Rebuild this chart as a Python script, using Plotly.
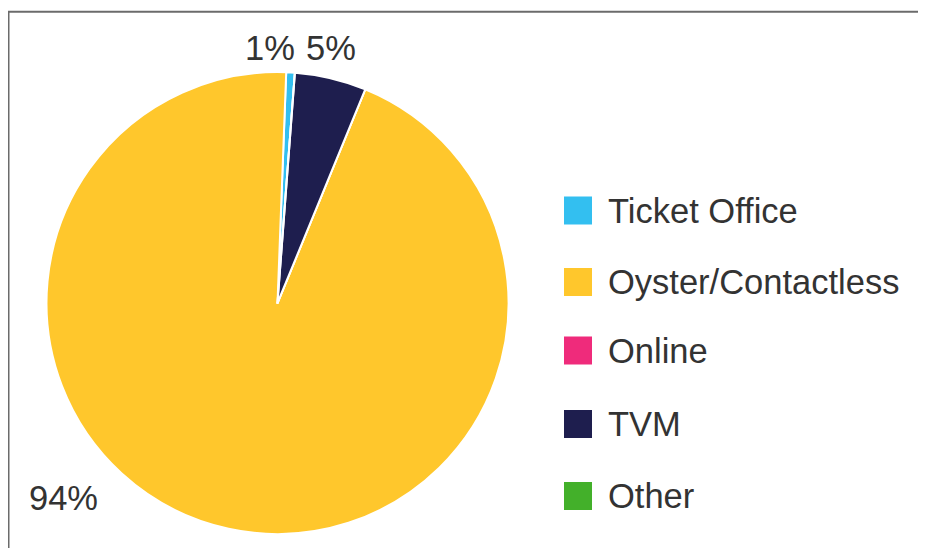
import plotly.graph_objects as go

categories = ["Ticket Office", "Oyster/Contactless", "Online", "TVM", "Other"]
shares = [0.6, 94.4, 0.0, 5.0, 0.0]
colors = ["#33BFF0", "#FFC72C", "#EF2B7B", "#1E1E4E", "#43B02A"]

# page has an 8px body margin; work in window pixel coordinates and shift
OFF = 8
W, H = 926 - OFF, 548 - OFF
font_family = "Liberation Sans, Arial, sans-serif"
text_color = "#333333"


def px(x):
    return (x - OFF) / W


def py(y):
    return 1 - (y - OFF) / H


total = sum(shares)
fig = go.Figure()
fig.add_trace(go.Pie(
    labels=categories,
    values=shares,
    sort=False,
    direction="counterclockwise",
    rotation=shares[0] / total * 360,
    marker=dict(colors=colors, line=dict(color="white", width=2)),
    textinfo="none",
    hoverinfo="label+percent",
    showlegend=False,
    domain=dict(x=[px(46.5), px(508.5)], y=[py(534), py(72)]),
))

# percentage labels (Excel-style placement)
label_pos = {"Ticket Office": (270, 48), "TVM": (331, 48), "Oyster/Contactless": (63, 498)}
annotations = []
for cat, val in zip(categories, shares):
    if cat in label_pos:
        lx, ly = label_pos[cat]
        annotations.append(dict(
            x=px(lx), y=py(ly), xref="paper", yref="paper",
            text=f"{round(val / total * 100)}%", showarrow=False,
            font=dict(family=font_family, size=34.5, color=text_color),
            xanchor="center", yanchor="middle",
        ))

# custom legend with large squares
legend_y = [210.5, 282, 350.5, 424, 496]
shapes = []
for cat, col, ly in zip(categories, colors, legend_y):
    shapes.append(dict(
        type="rect", xref="paper", yref="paper",
        x0=px(564), x1=px(592), y0=py(ly + 14), y1=py(ly - 14),
        fillcolor=col, line=dict(width=0),
    ))
    annotations.append(dict(
        x=px(606), y=py(ly), xref="paper", yref="paper",
        text=cat, showarrow=False, xanchor="left", yanchor="middle",
        font=dict(family=font_family, size=34.5, color=text_color),
    ))

# frame lines (top and left)
shapes.append(dict(type="line", xref="paper", yref="paper",
                   x0=px(7), x1=1.0, y0=py(11.8), y1=py(11.8),
                   line=dict(color="#6B6B6B", width=2)))
shapes.append(dict(type="line", xref="paper", yref="paper",
                   x0=px(8.5), x1=px(8.5), y0=0, y1=py(11),
                   line=dict(color="#6B6B6B", width=2)))

fig.update_layout(
    width=W, height=H,
    margin=dict(l=0, r=0, t=0, b=0),
    paper_bgcolor="white",
    plot_bgcolor="white",
    annotations=annotations,
    shapes=shapes,
    showlegend=False,
)

fig.write_html("out.html")
